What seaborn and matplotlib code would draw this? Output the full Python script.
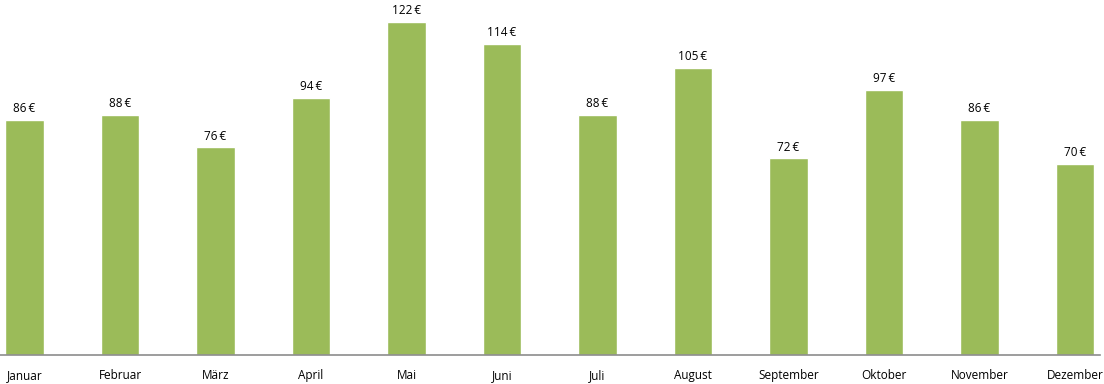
import matplotlib
matplotlib.use("Agg")
import matplotlib.pyplot as plt
import seaborn as sns
import pandas as pd

months = ["Januar", "Februar", "März", "April", "Mai", "Juni", "Juli",
          "August", "September", "Oktober", "November", "Dezember"]
values = [86, 88, 76, 94, 122, 114, 88, 105, 72, 97, 86, 70]

sns.set_theme(style="white")
plt.rcParams['font.family'] = ['Open Sans', 'DejaVu Sans']

df = pd.DataFrame({"Monat": months, "Wert": values})

fig = plt.figure(figsize=(11.04, 3.84), dpi=100)
ax = fig.add_axes([0, 29/384, 1100/1104, 355/384])
sns.barplot(data=df, x="Monat", y="Wert", color="#9BBB59", saturation=1,
            width=0.398, ax=ax)

ax.set_xlim(-24.5/95.5, (1100-24.5)/95.5)
ax.set_ylim(0, 130)
for s in ["top", "right", "left"]:
    ax.spines[s].set_visible(False)
ax.spines["bottom"].set_color("#8c8c8c")
ax.spines["bottom"].set_linewidth(1.2)
ax.set_yticks([])
ax.set_xlabel("")
ax.set_ylabel("")
ax.tick_params(axis="x", length=0, pad=10, labelsize=8.5, colors="black")

ax.bar_label(ax.containers[0], labels=[f"{v}\u2009€" for v in values],
             padding=3.5, fontsize=8.5, color="black")

fig.savefig("out.png", dpi=100)
